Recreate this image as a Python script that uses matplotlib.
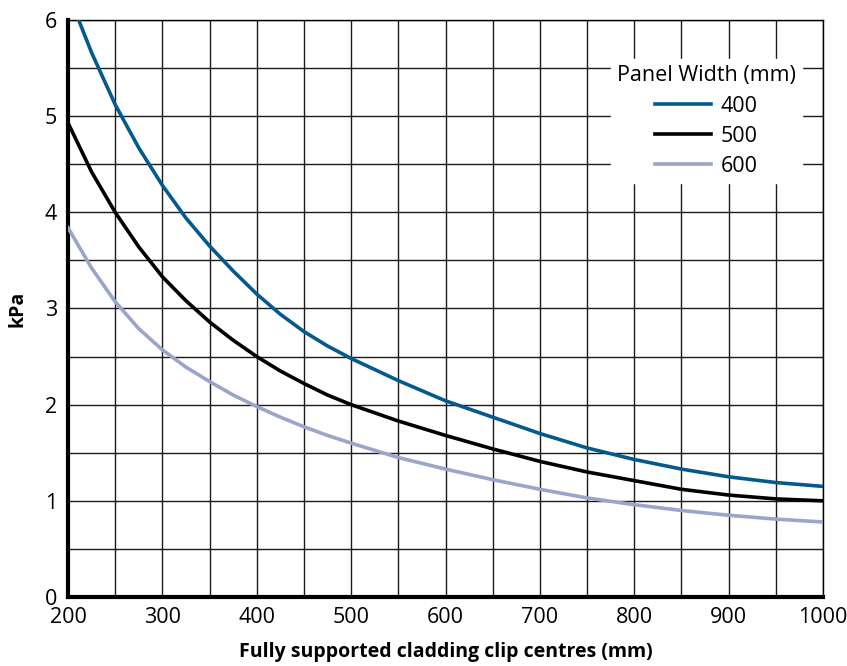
import numpy as np
import matplotlib.pyplot as plt
from matplotlib.ticker import MultipleLocator

# clip centres (mm)
centres = [200, 225, 250, 275, 300, 325, 350, 375, 400, 425, 450, 475, 500,
           550, 600, 650, 700, 750, 800, 850, 900, 950, 1000]

# kPa for each panel width
kpa_400 = [6.28, 5.66, 5.12, 4.67, 4.28, 3.94, 3.65, 3.39, 3.15, 2.94, 2.76, 2.61, 2.48,
           2.25, 2.04, 1.87, 1.70, 1.55, 1.43, 1.33, 1.25, 1.19, 1.15]
kpa_500 = [4.93, 4.42, 4.00, 3.64, 3.33, 3.08, 2.86, 2.67, 2.50, 2.35, 2.22, 2.10, 2.00,
           1.83, 1.68, 1.54, 1.41, 1.30, 1.21, 1.12, 1.06, 1.02, 1.00]
kpa_600 = [3.84, 3.42, 3.07, 2.79, 2.57, 2.39, 2.24, 2.10, 1.98, 1.87, 1.77, 1.68, 1.60,
           1.45, 1.33, 1.22, 1.12, 1.03, 0.96, 0.90, 0.85, 0.81, 0.78]

widths = ['400', '500', '600']
colours = ['#045a8d', '#000000', '#9aa6c9']

plt.rcParams['font.family'] = ['Open Sans', 'DejaVu Sans']

fig = plt.figure(figsize=(8.47, 6.66), dpi=100)
ax = fig.add_axes([0.0803, 0.1036, 0.8914, 0.8664])

for serie, nome, cor in zip([kpa_400, kpa_500, kpa_600], widths, colours):
    ax.plot(centres, serie, color=cor, lw=2.6, label=nome, zorder=3)

ax.set_xlim(200, 1000)
ax.set_ylim(0, 6)
ax.xaxis.set_major_locator(MultipleLocator(100))
ax.xaxis.set_minor_locator(MultipleLocator(50))
ax.yaxis.set_major_locator(MultipleLocator(1))
ax.yaxis.set_minor_locator(MultipleLocator(0.5))
ax.grid(which='both', color='#1a1a1a', lw=1.0, zorder=1)
ax.set_axisbelow(True)
ax.tick_params(which='both', length=0, labelsize=15.5, colors='black')
ax.tick_params(axis='x', pad=7)
ax.tick_params(axis='y', pad=8)

ax.spines['left'].set_linewidth(3)
ax.spines['bottom'].set_linewidth(3)
ax.spines['right'].set_linewidth(1)
ax.spines['top'].set_linewidth(1)

ax.set_xlabel('Fully supported cladding clip centres (mm)', fontsize=14,
              fontweight='bold', labelpad=10)
ax.set_ylabel('kPa', fontsize=14, fontweight='bold', labelpad=12)

leg = ax.legend(title='Panel Width (mm)', loc='upper right',
                bbox_to_anchor=(0.987, 0.951), fontsize=15.5, title_fontsize=15.5,
                frameon=True, fancybox=False, framealpha=1, edgecolor='white',
                facecolor='white', handlelength=2.6, handletextpad=0.45,
                labelspacing=0.42, borderpad=0.3)
leg.set_zorder(5)

fig.savefig('out.png', dpi=100)
